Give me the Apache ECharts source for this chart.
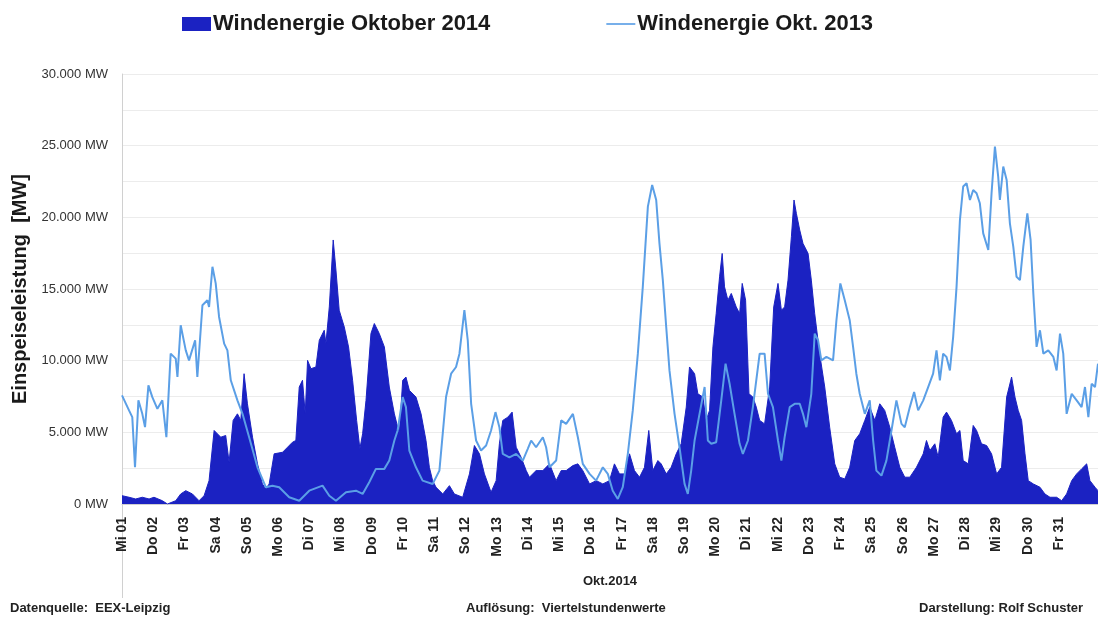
<!DOCTYPE html>
<html><head><meta charset="utf-8">
<script src="https://cdn.jsdelivr.net/npm/echarts@6/dist/echarts.min.js"></script>
<style>html,body{margin:0;padding:0;background:#fff}#c{width:1098px;height:622px}</style>
</head><body><div id="c"></div>
<script>
const dayLabels = ['Mi 01','Do 02','Fr 03','Sa 04','So 05','Mo 06','Di 07','Mi 08','Do 09','Fr 10','Sa 11','So 12','Mo 13','Di 14','Mi 15','Do 16','Fr 17','Sa 18','So 19','Mo 20','Di 21','Mi 22','Do 23','Fr 24','Sa 25','So 26','Mo 27','Di 28','Mi 29','Do 30','Fr 31'];

// hours since 1 Oct 00:00 and feed-in in MW
const hours2014 = [0,5.4,10.5,15.6,20.8,24.6,31,34.9,41.3,45.1,49,54.1,59.2,63.1,66.9,70.8,72,75.9,79.7,82.3,85.4,88.7,91.3,93.8,96.4,100.3,104.1,107.9,110.5,113.1,116.9,123.4,127.2,131,133.6,136.2,138.7,140.8,142.6,145.2,149,151.6,155.4,156.7,159.3,162.3,164.4,166.9,170.8,174.1,177.2,180.3,182.8,184.9,187.5,191.3,193.9,197.7,201.6,205.4,209.3,213.1,215.7,218.2,220.8,225.9,229.8,233.6,236.2,238.7,241.3,246.5,251.6,255.4,261.8,267,270.8,274.7,278.5,283.6,287.5,290,292.6,296.5,299.8,302.9,306.7,310.6,313.1,318.2,323.4,328.5,333.6,337.5,341.3,346.5,350.3,354.1,359.3,364.4,369.5,374.6,378.4,382.3,386.1,390,393.8,397.7,401.5,404.8,407.9,411.8,414.3,418.2,422,425.9,429.7,433.6,436.1,440,442.5,446.4,448.9,451.5,454.1,456.6,459.2,461.2,463,465.6,468.2,472,474.6,476.6,479.2,481.8,484.8,487.4,490,493.8,497.7,500.8,504.1,506.7,509.2,511.8,514.4,516.4,518.2,520.8,523.3,527.2,529.7,532.3,536.1,540,543.8,547.7,551.5,555.4,559.2,563.1,566.9,570.8,574.6,578.5,582.3,586.1,590,593.8,597.7,601.5,605.4,610.5,615.7,618.2,620.8,624.6,627.2,631,633.6,637.4,641.3,643.9,646.4,650.3,654.1,656.7,660.5,664.4,668.2,672.1,675.9,679.8,683.6,686.2,688.7,691.3,693.9,696.4,700.3,705.4,709.2,713.1,718.2,722.1,725.9,729.8,733.6,737.4,741.3,743.8,747.7,750];
const mw2014 = [580,470,350,470,350,470,230,0,230,700,930,700,230,580,1630,5130,5250,4660,4780,2910,5830,6290,5830,9090,6990,4660,2800,1400,1050,1400,3500,3610,3960,4310,4430,8160,8630,6290,10020,9440,9560,11420,12120,11190,13750,18420,16320,13520,12350,10960,8630,5830,3850,4900,7230,11890,12590,11890,10960,8160,6290,4900,8630,8860,7930,7460,6290,4430,2560,1630,1170,700,1280,700,470,2100,4080,3500,2100,820,1630,4200,5830,6060,6410,3960,3260,2330,1870,2330,2330,2800,1630,2330,2330,2680,2800,2330,1400,1630,1400,1630,2800,2100,2100,3500,2330,1870,2560,5130,2330,3030,2800,2100,2560,3500,4200,6760,9560,9090,7690,7460,5830,6530,10960,13290,15850,17480,15150,14220,14690,13750,13290,15390,14220,7690,7460,6760,5830,5590,8160,13750,15390,13520,13750,15620,18650,21210,20280,19110,18180,17480,15620,13290,10490,8160,5360,2800,1870,1750,2560,4430,4900,5830,6760,5830,6990,6530,5360,3960,2560,1870,1870,2560,3500,4430,3730,4200,3260,6060,6410,5830,4900,5130,3030,2800,5480,5130,4200,4080,3500,2100,2560,7460,8860,7460,6530,5830,3500,1630,1400,1170,700,470,470,230,700,1630,2100,2450,2800,1630,1170,930];

const hours2013 = [0,5.4,7.9,10,12.6,15.6,17.7,20.3,23.3,27.2,31,34.1,37.4,41.3,42.6,45.1,49,51.5,56.2,57.9,61.8,65.6,66.9,69.5,72,74.6,78.5,81,83.6,88.7,92.6,97.7,104.1,110.5,115.6,120.8,128.5,136.2,143.9,154.1,159.3,164.4,172.1,179.8,184.9,190,195.1,201.6,205.4,209.3,211.8,215.7,218.2,220.8,225.9,231,238.7,243.9,249,252.9,256.7,259.3,263.1,265.7,268.3,272.1,275.9,279.8,283.6,287,290,292.6,297.7,302.9,308,311.8,314.4,318.2,323.4,325.9,328.5,333.6,337.5,341.3,346.5,350.3,354.1,359.3,364.3,369.5,373.3,377.1,381,384.8,388.7,392.5,396.4,400.2,404.1,407.4,410.5,413,415.6,418.2,420.7,424.6,428.4,432.3,434.8,437.4,440,443.8,447.7,450.2,452.8,456.6,460.5,463.8,466.9,470.7,474.6,477.1,481,484.8,490,493.8,496.4,500.2,504.1,506.7,509.2,513.1,516.9,520.8,523.3,525.9,529.7,532.3,534.9,537.4,541.3,546.4,549,552,555.4,559.2,561.8,564.3,566.9,570.8,574.6,577.2,579.7,583.6,587.4,591.3,595.1,599,601.5,605.4,608.7,611.8,615.7,619.5,623.3,625.9,628.5,631,633.6,636.2,638.7,641.3,643.9,646.4,649,651.6,654.1,656.7,659.2,661.8,665.7,668.2,670.8,673.3,674.6,677.2,679.8,682.3,684.9,687.4,690,692.6,695.7,698.2,700.3,702.8,705.4,708,711.8,715.7,718.2,720.8,723.3,725.9,729.8,733.6,737.4,740,742.6,745.1,747.7,750];
const mw2013 = [7580,6530,6060,2560,7230,6290,5360,8280,7460,6640,7230,4660,10490,10140,8860,12470,10720,10020,11420,8860,13870,14220,13750,16550,15390,13050,11190,10720,8630,7230,6290,4660,2560,1170,1280,1170,470,230,930,1280,580,230,820,930,700,1520,2450,2450,3030,4430,5130,7460,6760,3730,2560,1630,1400,2330,7460,9090,9560,10490,13520,11420,6990,4430,3730,4080,5130,6410,5360,3500,3260,3500,3030,3850,4430,3960,4660,3960,2560,3030,5830,5590,6290,4660,2800,2100,1630,2560,2100,930,350,1170,3500,6530,10490,15150,20750,22260,21210,18180,15620,12350,9320,6290,3960,1400,700,2330,4430,6290,8160,4430,4200,4310,7230,9790,8390,6290,4200,3500,4430,6760,10490,10490,7690,6760,4430,3030,4660,6760,6990,6990,6290,5360,7690,11890,11420,10020,10260,10020,12820,15390,14220,12820,10960,9090,7690,6290,7230,4430,2330,1980,3030,5130,7230,5590,5360,6760,7810,6530,7230,8160,9090,10720,8630,10490,10260,9320,11660,15150,19810,22150,22380,21210,21910,21680,20980,18880,17720,21680,24940,22840,21210,23540,22610,19580,17950,15850,15620,17950,20280,18420,14690,10960,12120,10490,10720,10260,9320,11890,10490,6290,7690,7230,6760,8160,6060,8390,8160,9790];

const zip = (h, v) => h.map((x, i) => [x, v[i]]);
const fmtMW = v => String(v).replace(/\B(?=(\d{3})+(?!\d))/g, '.') + ' MW';
const FONT = 'Liberation Sans, Arial, sans-serif';

const chart = echarts.init(document.getElementById('c'));
chart.setOption({
  animation: false,
  backgroundColor: '#ffffff',
  textStyle: { fontFamily: FONT },
  legend: {
    left: 177, top: 8,
    itemWidth: 29, itemHeight: 14, itemGap: 116,
    textStyle: { fontSize: 22, fontWeight: 'bold', color: '#1a1a1a', fontFamily: FONT, padding: [0, 0, 0, -3] },
    data: [
      { name: 'Windenergie Oktober 2014', icon: 'rect' },
      { name: 'Windenergie Okt. 2013', icon: 'path://M0,0 L28,0 L28,1.6 L0,1.6 Z' }
    ]
  },
  grid: { left: 122, right: 0, top: 74, bottom: 118 },
  xAxis: {
    type: 'value', min: 0, max: 750, interval: 24,
    name: 'Okt.2014', nameLocation: 'middle', nameGap: 71,
    nameTextStyle: { fontSize: 13, fontWeight: 'bold', color: '#222', fontFamily: FONT },
    axisLine: { show: true, lineStyle: { color: '#d0d0d0' } },
    axisTick: { show: false },
    splitLine: { show: false },
    axisLabel: {
      rotate: 90, margin: 13, fontSize: 14, fontWeight: 'bold', color: '#222', fontFamily: FONT,
      showMaxLabel: false,
      formatter: v => (v % 24 === 0 && dayLabels[v / 24]) ? dayLabels[v / 24] : ''
    }
  },
  yAxis: {
    type: 'value', min: 0, max: 30000, interval: 2500,
    name: 'Einspeiseleistung  [MW]', nameLocation: 'middle', nameGap: 88,
    nameTextStyle: { fontSize: 20, fontWeight: 'bold', color: '#1a1a1a', fontFamily: FONT },
    axisLine: { show: true, lineStyle: { color: '#d0d0d0' } },
    axisTick: { show: false },
    splitLine: { show: true, lineStyle: { color: '#ececec', width: 1 } },
    axisLabel: {
      margin: 14, fontSize: 13, color: '#333', fontFamily: FONT,
      formatter: v => (v % 5000 === 0 ? fmtMW(v) : '')
    }
  },
  series: [
    {
      name: 'Windenergie Oktober 2014', type: 'line', symbol: 'none', z: 2,
      data: zip(hours2014, mw2014),
      lineStyle: { color: '#1b22c2', width: 1 },
      itemStyle: { color: '#1b22c2' },
      areaStyle: { color: '#1b22c2', opacity: 1 }
    },
    {
      name: 'Windenergie Okt. 2013', type: 'line', symbol: 'none', z: 3,
      data: zip(hours2013, mw2013),
      lineStyle: { color: '#5b9fe6', width: 2 },
      itemStyle: { color: '#5b9fe6' }
    }
  ],
  graphic: [
    { type: 'line', shape: { x1: 122.5, y1: 504, x2: 122.5, y2: 598 }, style: { stroke: '#d0d0d0', lineWidth: 1 } },
    { type: 'text', left: 10, top: 602, style: { text: 'Datenquelle:  EEX-Leipzig', font: 'bold 13px ' + FONT, fill: '#222' } },
    { type: 'text', left: 466, top: 602, style: { text: 'Auflösung:  Viertelstundenwerte', font: 'bold 13px ' + FONT, fill: '#222' } },
    { type: 'text', right: 15, top: 602, style: { text: 'Darstellung: Rolf Schuster', font: 'bold 13px ' + FONT, fill: '#222' } }
  ]
});
</script></body></html>
